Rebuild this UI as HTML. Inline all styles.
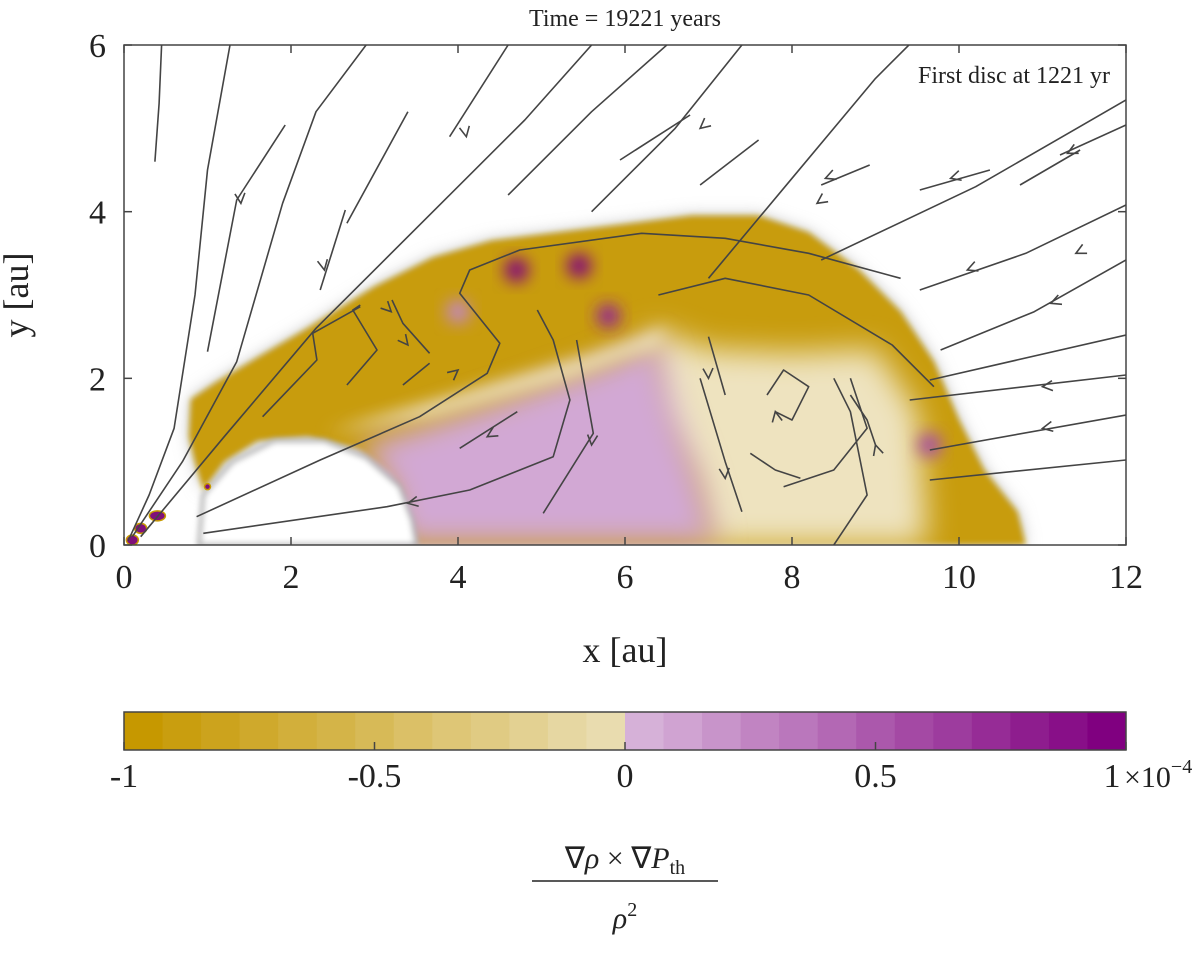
<!DOCTYPE html>
<html><head><meta charset="utf-8"><style>
body{margin:0;background:#fff;width:1200px;height:954px;overflow:hidden;font-family:"Liberation Serif",serif;}
svg text{font-family:"Liberation Serif",serif;fill:#222;}
</style></head><body>
<svg id="chart" width="1200" height="954" viewBox="0 0 1200 954" xmlns="http://www.w3.org/2000/svg">
<defs>
<filter id="blur8" x="-50%" y="-50%" width="200%" height="200%"><feGaussianBlur stdDeviation="8"/></filter>
<filter id="blur3" x="-20%" y="-20%" width="140%" height="140%"><feGaussianBlur stdDeviation="3"/></filter>
<filter id="blur10" x="-30%" y="-30%" width="160%" height="160%"><feGaussianBlur stdDeviation="10"/></filter>
<filter id="blur15" x="-30%" y="-30%" width="160%" height="160%"><feGaussianBlur stdDeviation="15"/></filter>
<clipPath id="plotclip"><rect x="124" y="45" width="1002" height="500"/></clipPath>
</defs>
<g id="field" clip-path="url(#plotclip)"></g>
<g id="stream" clip-path="url(#plotclip)"></g>
<rect x="124" y="45" width="1002" height="500" fill="none" stroke="#444" stroke-width="1.5"/>
<g id="axes"></g>
<text x="625" y="26" font-size="24" text-anchor="middle">Time = 19221 years</text>
<text x="1110" y="83" font-size="24" text-anchor="end">First disc at 1221 yr</text>
<text x="625" y="662" font-size="36" text-anchor="middle">x [au]</text>
<text x="28" y="295" font-size="36" text-anchor="middle" transform="rotate(-90 28 295)">y [au]</text>
<g id="cbar"></g>
<g>
<text x="625" y="868" font-size="30" text-anchor="middle">∇<tspan font-style="italic">ρ</tspan> × ∇<tspan font-style="italic">P</tspan><tspan font-size="20" dy="6">th</tspan></text>
<line x1="532" y1="881" x2="718" y2="881" stroke="#222" stroke-width="1.5"/>
<text x="625" y="928" font-size="30" text-anchor="middle" font-style="italic">ρ<tspan font-size="20" dy="-12" font-style="normal">2</tspan></text>
</g>
</svg>
<script>
const NS="http://www.w3.org/2000/svg";
const xTicks=[0,2,4,6,8,10,12];
const yTicks=[0,2,4,6];
const cbarTicks=[-1,-0.5,0,0.5,1];
const cbarTickLabels=["-1","-0.5","0","0.5","1"];
const cbarBins=[-1,-0.92,-0.85,-0.77,-0.69,-0.62,-0.54,-0.46,-0.38,-0.31,-0.23,-0.15,-0.08,0.08,0.15,0.23,0.31,0.38,0.46,0.54,0.62,0.69,0.77,0.85,0.92,1];
const goldRegion=[[0.95,0.65],[0.85,1.0],[0.78,1.3],[0.8,1.75],[1.1,1.95],[1.6,2.25],[2.2,2.6],[3.0,3.1],[3.7,3.45],[4.4,3.65],[5.2,3.75],[6.0,3.85],[6.8,3.95],[7.6,3.95],[8.2,3.75],[8.8,3.3],[9.3,2.8],[9.7,2.2],[10.0,1.5],[10.3,0.9],[10.7,0.4],[10.8,0],[3.5,0],[3.45,0.45],[3.2,0.85],[2.8,1.15],[2.2,1.3],[1.6,1.25],[1.2,1.0]];
const creamRegion=[[6.3,2.6],[7.0,2.35],[8.0,2.3],[9.0,2.35],[9.5,1.6],[9.6,0.4],[9.6,0],[7.0,0],[6.8,0.8],[6.3,1.6]];
const purpleRegion=[[3.3,0],[3.2,0.7],[2.8,1.2],[3.6,1.45],[4.5,1.75],[5.5,2.1],[6.4,2.45],[6.6,1.6],[6.9,0.8],[7.1,0]];
const lightBand=[[2.4,1.35],[4.0,1.8],[5.5,2.25],[6.5,2.6],[6.4,2.4],[5.3,2.0],[3.7,1.55]];
const holeRegion=[[0.95,0.6],[1.3,1.0],[1.8,1.25],[2.4,1.25],[2.9,1.05],[3.3,0.7],[3.45,0.3],[3.5,0],[0.9,0]];
const darkSpots=[[4.7,3.3,1],[5.45,3.35,1],[5.8,2.75,0.8],[9.65,1.2,0.6],[4.0,2.8,0.3]];
const streamlines=[
 [[0.37,4.6],[0.42,5.3],[0.45,6]],
 [[0.05,0.05],[0.3,0.6],[0.6,1.4],[0.85,3],[1.0,4.5],[1.27,6]],
 [[0.1,0.1],[0.7,1.0],[1.35,2.2],[1.9,4.1],[2.3,5.2],[2.9,6]],
 [[0.2,0.1],[1.2,1.3],[2.3,2.6],[3.8,4.1],[4.8,5.1],[5.6,6]],
 [[0.87,0.34],[2.35,1.02],[3.54,1.54],[4.35,2.06],[4.5,2.42],[4.02,3.02],[4.14,3.3],[4.74,3.54],[6.2,3.74],[7.2,3.68],[8.2,3.5],[9.3,3.2]],
 [[0.95,0.14],[3.15,0.46],[4.14,0.66],[5.14,1.06],[5.34,1.74],[5.14,2.46],[4.95,2.82]],
 [[4.02,1.16],[4.71,1.6]],
 [[5.02,0.38],[5.62,1.34],[5.42,2.46]],
 [[1.66,1.54],[2.31,2.22],[2.26,2.54],[2.83,2.86]],
 [[2.67,1.92],[3.03,2.34],[2.74,2.82],[2.83,2.88]],
 [[3.66,2.3],[3.34,2.66],[3.21,2.94]],
 [[3.34,1.92],[3.66,2.18]],
 [[1.0,2.32],[1.35,4.14],[1.93,5.04]],
 [[2.35,3.06],[2.65,4.02]],
 [[2.67,3.86],[3.4,5.2]],
 [[3.9,4.9],[4.6,6]],
 [[4.6,4.2],[5.6,5.2],[6.5,6]],
 [[5.6,4.0],[6.6,5.0],[7.4,6]],
 [[7.0,3.2],[8.0,4.4],[9.0,5.6],[9.4,6]],
 [[6.4,3.0],[7.2,3.2],[8.2,3.0],[9.2,2.4],[9.7,1.9]],
 [[6.9,2.0],[7.2,1.0],[7.4,0.4]],
 [[7.0,2.5],[7.2,1.8]],
 [[7.7,1.8],[7.9,2.1],[8.2,1.9],[8.0,1.5],[7.8,1.6]],
 [[7.5,1.1],[7.8,0.9],[8.1,0.8]],
 [[7.9,0.7],[8.5,0.9],[8.9,1.4],[8.7,2.0]],
 [[8.5,0],[8.9,0.6],[8.7,1.6],[8.5,2.0]],
 [[9.0,1.2],[8.9,1.5],[8.7,1.8]],
 [[12,5.34],[10.2,4.3],[8.35,3.42]],
 [[12,5.04],[11.21,4.68]],
 [[12,4.08],[10.8,3.5],[9.53,3.06]],
 [[12,3.42],[10.9,2.8],[9.78,2.34]],
 [[12,2.52],[9.65,1.98]],
 [[12,2.04],[9.41,1.74]],
 [[12,1.56],[9.65,1.14]],
 [[12,1.02],[9.65,0.78]],
 [[11.45,4.74],[10.73,4.32]],
 [[10.37,4.5],[9.53,4.26]],
 [[8.93,4.56],[8.35,4.32]],
 [[7.6,4.86],[6.9,4.32]],
 [[6.78,5.16],[5.94,4.62]]
];
const arrows=[[1.4,4.1,0.1,-1],[2.4,3.3,0.2,-1],[4.1,4.9,0.2,-1],[6.9,5.0,-0.6,-0.5],[8.4,4.4,-1,-0.4],[9.9,4.4,-1,-0.3],[11.3,4.7,-1,-0.5],[10.1,3.3,-1,-0.4],[11.1,2.9,-1,-0.4],[11.0,1.9,-1,-0.1],[11.0,1.4,-1,-0.2],[11.4,3.5,-1,-0.5],[3.4,2.4,0.4,-0.5],[3.2,2.8,0.4,-0.4],[4.0,2.1,0.6,0.5],[3.4,0.5,-1,-0.2],[4.35,1.3,-1,-0.6],[5.6,1.2,-0.1,-1],[7.0,2.0,0.05,-1],[7.2,0.8,0.1,-1],[7.8,1.6,-0.2,1],[9.0,1.2,-0.3,1],[8.3,4.1,-1,-0.7]];
function X(v){return 124+v*83.5;}
function Y(v){return 545-v*83.33;}
function CX(v){return 124+(v+1)/2*1002;}
function mk(tag,attrs,parent){const e=document.createElementNS(NS,tag);for(const k in attrs)e.setAttribute(k,attrs[k]);parent.appendChild(e);return e;}
function pts(a){return a.map(p=>X(p[0]).toFixed(1)+","+Y(p[1]).toFixed(1)).join(" ");}
function col(v){
 if(v<0){const t=(v+1);return `rgb(${Math.round(198+t*38)},${Math.round(152+t*74)},${Math.round(0+t*190)})`;}
 const t=v;return `rgb(${Math.round(222-t*94)},${Math.round(192-t*192)},${Math.round(224-t*96)})`;}
const field=document.getElementById('field');
let e;
e=mk('polygon',{points:pts(goldRegion),fill:'#bbb',filter:'url(#blur8)'},field);


e=mk('polygon',{points:pts(goldRegion),fill:col(-0.95),filter:'url(#blur3)'},field);


e=mk('polygon',{points:pts(creamRegion),fill:'#eee3bf',filter:'url(#blur15)'},field);


e=mk('polygon',{points:pts(purpleRegion),fill:'#d2a8d4',filter:'url(#blur15)'},field);


e=mk('polygon',{points:pts(lightBand),fill:'#efe4c2',filter:'url(#blur8)'},field);


e=mk('polygon',{points:pts(holeRegion),fill:'#fff',stroke:'#aaa','stroke-width':4,filter:'url(#blur3)'},field);


darkSpots.forEach(s=>{const c=mk('circle',{cx:X(s[0]),cy:Y(s[1]),r:12,fill:col(s[2]),filter:'url(#blur8)'},field);
 
 });
[[0.4,0.35,8,5],[0.2,0.2,6,5],[0.1,0.06,6,5],[1.0,0.7,3,3]].forEach(s=>{const c=mk('ellipse',{cx:X(s[0]),cy:Y(s[1]),rx:s[2],ry:s[3],fill:'#80107a',stroke:'#c89b00','stroke-width':1.5},field);
 
 });
const stream=document.getElementById('stream');
streamlines.forEach(l=>{const p=mk('polyline',{points:pts(l),fill:'none',stroke:'#444','stroke-width':1.6,'stroke-linejoin':'round'},stream);
 
 });
arrows.forEach(a=>{const x=X(a[0]),y=Y(a[1]);const dx=a[2],dy=-a[3];const L=Math.hypot(dx,dy);const ux=dx/L,uy=dy/L;
 const bx=x-ux*10,by=y-uy*10;const px=-uy*5,py=ux*5;
 const p=mk('polyline',{points:`${bx+px},${by+py} ${x},${y} ${bx-px},${by-py}`,fill:'none',stroke:'#444','stroke-width':1.6},stream);
 
 });
const axes=document.getElementById('axes');
xTicks.forEach(v=>{const x=X(v);
 const t=mk('line',{x1:x,y1:545,x2:x,y2:537,stroke:'#444','stroke-width':1.5},axes);
 
 
 mk('line',{x1:x,y1:45,x2:x,y2:53,stroke:'#444','stroke-width':1.5},axes);
 const l=mk('text',{x:x,y:588,'font-size':34,'text-anchor':'middle'},axes);l.textContent=v;
 
 });
yTicks.forEach(v=>{const y=Y(v);
 const t=mk('line',{x1:124,y1:y,x2:132,y2:y,stroke:'#444','stroke-width':1.5},axes);
 
 
 mk('line',{x1:1126,y1:y,x2:1118,y2:y,stroke:'#444','stroke-width':1.5},axes);
 const l=mk('text',{x:106,y:y+12,'font-size':34,'text-anchor':'end'},axes);l.textContent=v;
 
 });
const cbar=document.getElementById('cbar');
const bw=1002/cbarBins.length;
cbarBins.forEach((v,i)=>{const r=mk('rect',{x:124+i*bw,y:712,width:bw+0.5,height:38,fill:col(v)},cbar);
 
 });
mk('rect',{x:124,y:712,width:1002,height:38,fill:'none',stroke:'#444','stroke-width':1.5},cbar);
cbarTicks.forEach((v,i)=>{const x=CX(v);
 mk('line',{x1:x,y1:750,x2:x,y2:742,stroke:'#444','stroke-width':1.5},cbar);
 const l=mk('text',{x:i==4?x-14:x,y:787,'font-size':34,'text-anchor':'middle'},cbar);
 l.textContent=cbarTickLabels[i];
 
 });
const ex=mk('text',{x:1124,y:787,'font-size':30},cbar);
ex.innerHTML='×10<tspan font-size="20" dy="-14">−4</tspan>';


</script>
</body></html>
